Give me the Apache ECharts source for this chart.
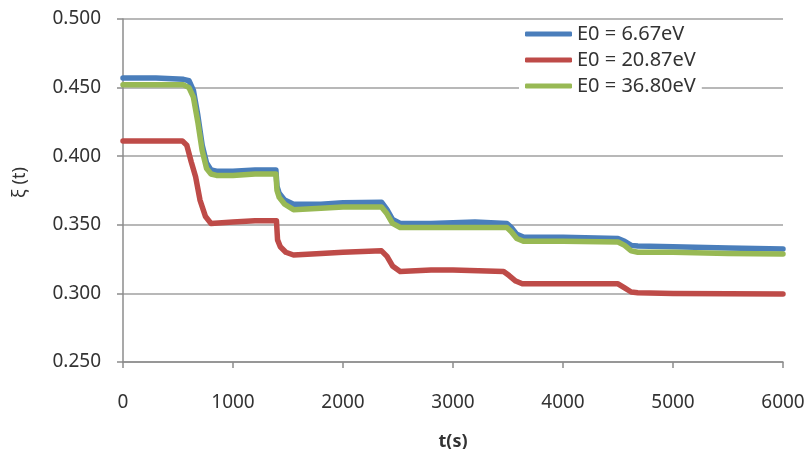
<!DOCTYPE html>
<html>
<head>
<meta charset="utf-8">
<script src="https://cdn.jsdelivr.net/npm/echarts@6/dist/echarts.min.js"></script>
<style>html,body{margin:0;padding:0;background:#fff}#c{width:804px;height:449px}</style>
</head>
<body>
<div id="c"></div>
<script>
var seriesNames = ['E0 = 6.67eV', 'E0 = 20.87eV', 'E0 = 36.80eV'];
var xTicks = [0, 1000, 2000, 3000, 4000, 5000, 6000];
var yTicks = [0.25, 0.30, 0.35, 0.40, 0.45, 0.50];

var tBlue = [0, 300, 550, 600, 640, 680, 720, 760, 800, 850, 1000, 1200, 1390, 1400, 1420, 1470, 1550, 1800, 2000, 2350, 2400, 2450, 2520, 2800, 3200, 3490, 3530, 3580, 3640, 4000, 4500, 4560, 4620, 4680, 5000, 5500, 6000];
var vBlue = [0.457, 0.457, 0.456, 0.455, 0.448, 0.430, 0.408, 0.395, 0.390, 0.389, 0.389, 0.390, 0.390, 0.378, 0.373, 0.368, 0.365, 0.365, 0.366, 0.3665, 0.361, 0.354, 0.351, 0.351, 0.352, 0.351, 0.348, 0.343, 0.341, 0.341, 0.340, 0.338, 0.335, 0.3345, 0.334, 0.333, 0.3324];

var tRed = [0, 300, 540, 580, 620, 660, 700, 750, 800, 1000, 1200, 1395, 1405, 1430, 1480, 1550, 1800, 2000, 2350, 2400, 2450, 2520, 2800, 3000, 3460, 3510, 3570, 3630, 4000, 4500, 4560, 4620, 4680, 5000, 5500, 6000];
var vRed = [0.411, 0.411, 0.411, 0.408, 0.396, 0.385, 0.368, 0.356, 0.351, 0.352, 0.353, 0.353, 0.339, 0.334, 0.330, 0.328, 0.329, 0.330, 0.331, 0.327, 0.320, 0.316, 0.317, 0.317, 0.316, 0.313, 0.309, 0.307, 0.307, 0.307, 0.304, 0.301, 0.3005, 0.300, 0.2997, 0.2996];

var tGreen = [0, 300, 550, 600, 640, 680, 720, 760, 800, 850, 1000, 1200, 1390, 1400, 1420, 1470, 1550, 1800, 2000, 2350, 2400, 2450, 2520, 2800, 3200, 3490, 3530, 3580, 3640, 4000, 4500, 4560, 4620, 4680, 5000, 5500, 6000];
var vGreen = [0.452, 0.452, 0.452, 0.450, 0.443, 0.425, 0.404, 0.391, 0.387, 0.386, 0.386, 0.387, 0.387, 0.375, 0.370, 0.365, 0.361, 0.362, 0.363, 0.363, 0.358, 0.351, 0.348, 0.348, 0.348, 0.348, 0.345, 0.340, 0.338, 0.338, 0.3375, 0.335, 0.331, 0.330, 0.330, 0.329, 0.3287];

var colors = ['#4A7EBB', '#BE4B48', '#98B954'];

function pairs(t, v) { return t.map(function (x, i) { return [x, v[i]]; }); }

var chart = echarts.init(document.getElementById('c'), null, { renderer: 'canvas' });
var font = 'Noto Sans';
var txt = '#333';
var gray = '#8c8c8c';

function mkSeries(name, data, color) {
  return {
    name: name, type: 'line', data: data, showSymbol: false, smooth: false,
    lineStyle: { color: color, width: 5.5, cap: 'round', join: 'round' },
    itemStyle: { color: color }
  };
}

chart.setOption({
  animation: false,
  backgroundColor: '#fff',
  textStyle: { fontFamily: font },
  grid: { left: 123, right: 21, top: 19, bottom: 87, containLabel: false, outerBoundsMode: 'none' },
  legend: {
    orient: 'vertical', left: 519, top: 22,
    backgroundColor: '#fff', padding: [2, 6, 2, 6],
    itemWidth: 47, itemHeight: 5, itemGap: 6, icon: 'roundRect',
    textStyle: { fontFamily: font, fontSize: 20, color: txt },
    data: seriesNames
  },
  xAxis: {
    type: 'value', min: xTicks[0], max: xTicks[xTicks.length - 1], interval: 1000,
    name: 't(s)', nameLocation: 'middle', nameGap: 71,
    nameTextStyle: { fontFamily: font, fontSize: 18, fontWeight: 'bold', color: txt },
    axisLine: { show: true, lineStyle: { color: gray, width: 1.5 } },
    axisTick: { show: true, inside: false, length: 6, lineStyle: { color: gray, width: 1.5 } },
    axisLabel: { margin: 31, fontFamily: font, fontSize: 19, color: txt,
      formatter: function (v) { return String(v); } },
    splitLine: { show: false }
  },
  yAxis: {
    type: 'value', min: yTicks[0], max: yTicks[yTicks.length - 1], interval: 0.05,
    name: 'ξ (t)', nameLocation: 'middle', nameGap: 94, nameRotate: 90,
    nameTextStyle: { fontFamily: font, fontSize: 18, color: txt, padding: [0, 0, 0, 16] },
    axisLine: { show: true, lineStyle: { color: gray, width: 1.5 } },
    axisTick: { show: true, inside: false, length: 6, lineStyle: { color: gray, width: 1.5 } },
    axisLabel: { margin: 22, fontFamily: font, fontSize: 19, color: txt,
      formatter: function (v) { return v.toFixed(3); } },
    splitLine: { show: true, lineStyle: { color: '#a0a0a0', width: 1.5 } }
  },
  series: [
    mkSeries(seriesNames[0], pairs(tBlue, vBlue), colors[0]),
    mkSeries(seriesNames[1], pairs(tRed, vRed), colors[1]),
    mkSeries(seriesNames[2], pairs(tGreen, vGreen), colors[2])
  ]
});
</script>
</body>
</html>
